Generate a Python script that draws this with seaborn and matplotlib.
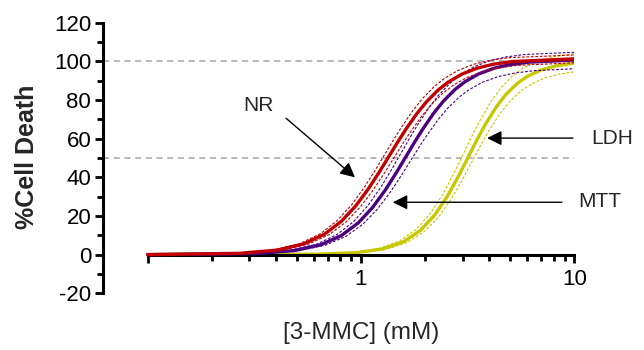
import matplotlib
matplotlib.use("Agg")
import matplotlib.pyplot as plt
import seaborn as sns
from matplotlib.ticker import FixedLocator, NullFormatter

# ---------------- data ----------------
# NR (red): fitted curve and 95% confidence band
nr_x = [0.1, 0.27, 0.405, 0.54, 0.675, 0.81, 0.945, 1.08, 1.215, 1.35, 1.485, 1.62,
        1.823, 2.025, 2.295, 2.565, 2.97, 3.51, 4.185, 5.13, 10]
nr_y = [0, 0.69, 2.36, 5.60, 10.60, 17.30, 25.23, 33.86, 42.53, 50.75, 58.18, 64.73,
        72.79, 79.02, 85.08, 89.30, 93.39, 96.51, 98.55, 99.91, 101.3]
nr_hi_x = [0.1, 0.258, 0.387, 0.516, 0.645, 0.774, 0.903, 1.032, 1.161, 1.29, 1.419, 1.548,
           1.742, 1.935, 2.193, 2.451, 2.838, 3.354, 3.999, 4.902, 10]
nr_hi_y = [0, 0.70, 2.41, 5.71, 10.81, 17.64, 25.73, 34.53, 43.37, 51.75, 59.33, 66.00,
           74.22, 80.57, 86.75, 91.06, 95.23, 98.41, 100.49, 101.88, 103.3]
nr_lo_x = [0.1, 0.284, 0.426, 0.568, 0.71, 0.852, 0.994, 1.136, 1.278, 1.42, 1.562, 1.704,
           1.917, 2.13, 2.414, 2.698, 3.124, 3.692, 4.402, 5.396, 10]
nr_lo_y = [0, 0.67, 2.32, 5.49, 10.39, 16.95, 24.74, 33.19, 41.69, 49.75, 57.03, 63.45,
           71.35, 77.46, 83.40, 87.54, 91.55, 94.60, 96.60, 97.94, 99.26]

# MTT (purple)
mtt_x = [0.1, 0.324, 0.486, 0.648, 0.81, 0.972, 1.134, 1.296, 1.458, 1.62, 1.782, 1.944,
         2.187, 2.43, 2.754, 3.078, 3.564, 4.212, 5.022, 6.156, 10]
mtt_y = [0, 0.58, 2.10, 5.11, 9.91, 16.48, 24.45, 33.20, 42.07, 50.5, 58.15, 64.81,
         73.03, 79.34, 85.38, 89.53, 93.51, 96.47, 98.36, 99.61, 100.7]
mtt_hi_x = [0.1, 0.308, 0.462, 0.616, 0.77, 0.924, 1.078, 1.232, 1.386, 1.54, 1.694, 1.848,
            2.079, 2.31, 2.618, 2.926, 3.388, 4.004, 4.774, 5.852, 10]
mtt_hi_y = [0, 0.61, 2.18, 5.31, 10.30, 17.14, 25.42, 34.51, 43.73, 52.5, 60.45, 67.38,
            75.93, 82.48, 88.76, 93.07, 97.21, 100.29, 102.26, 103.55, 104.7]
mtt_lo_x = [0.1, 0.34, 0.51, 0.68, 0.85, 1.02, 1.19, 1.36, 1.53, 1.70, 1.87, 2.04,
            2.295, 2.55, 2.89, 3.23, 3.74, 4.42, 5.27, 6.46, 10]
mtt_lo_y = [0, 0.56, 2.01, 4.88, 9.47, 15.75, 23.36, 31.72, 40.19, 48.25, 55.56, 61.92,
            69.78, 75.80, 81.57, 85.54, 89.34, 92.17, 93.98, 95.17, 96.2]

# LDH (yellow)
ldh_x = [0.1, 0.634, 0.951, 1.268, 1.585, 1.902, 2.219, 2.536, 2.853, 3.17, 3.487, 3.804,
         4.280, 4.755, 5.389, 6.023, 6.974, 8.242, 10]
ldh_y = [0, 0.22, 1.02, 2.99, 6.72, 12.60, 20.56, 30.08, 40.23, 50.15, 59.13, 66.87,
         76.00, 82.61, 88.51, 92.25, 95.53, 97.71, 99.05]
ldh_hi_x = [0.1, 0.606, 0.909, 1.212, 1.515, 1.818, 2.121, 2.424, 2.727, 3.03, 3.333, 3.636,
            4.091, 4.545, 5.151, 5.757, 6.666, 7.878, 9.393, 10]
ldh_hi_y = [0, 0.23, 1.07, 3.13, 7.04, 13.19, 21.53, 31.49, 42.12, 52.5, 61.90, 70.00,
            79.56, 86.48, 92.66, 96.57, 100.00, 102.29, 103.59, 103.9]
ldh_lo_x = [0.1, 0.662, 0.993, 1.324, 1.655, 1.986, 2.317, 2.648, 2.979, 3.31, 3.641, 3.972,
            4.469, 4.965, 5.627, 6.289, 7.282, 8.606, 10]
ldh_lo_y = [0, 0.21, 0.98, 2.86, 6.43, 12.06, 19.68, 28.79, 38.51, 48.0, 56.59, 64.00,
            72.74, 79.07, 84.72, 88.29, 91.43, 93.52, 94.6]

ref_levels = [100, 50]
y_major = [-20, 0, 20, 40, 60, 80, 100, 120]
y_minor = [-10, 10, 30, 50, 70, 90, 110]
x_major = [0.1, 1, 10]
x_major_labels = ["", "1", "10"]
x_minor = [0.2, 0.3, 0.4, 0.5, 0.6, 0.7, 0.8, 0.9, 2, 3, 4, 5, 6, 7, 8, 9]

# ---------------- styling ----------------
sns.set_theme(style="ticks")
plt.rcParams["font.family"] = ["Liberation Sans", "DejaVu Sans"]

RED = "#C00000"
PURPLE = "#4B0082"
YELLOW = "#C8C800"

fig = plt.figure(figsize=(6.44, 3.5), dpi=100)
ax = fig.add_axes([103 / 644, 1 - 293.3 / 350, (574.3 - 103) / 644, (293.3 - 22.7) / 350])

XMIN = 10 ** ((103 - 361) / 213.3)

# reference lines
for lv in ref_levels:
    ax.plot([XMIN, 10], [lv, lv], color="#A6A6A6", lw=1.1, ls=(0, (4, 3)), zorder=1)

series = [
    (nr_x, nr_y, nr_hi_x, nr_hi_y, nr_lo_x, nr_lo_y, RED, 4),
    (mtt_x, mtt_y, mtt_hi_x, mtt_hi_y, mtt_lo_x, mtt_lo_y, PURPLE, 3),
    (ldh_x, ldh_y, ldh_hi_x, ldh_hi_y, ldh_lo_x, ldh_lo_y, YELLOW, 2),
]
for cx, cy, hx, hy, lx, ly, col, z in series:
    for bx, by in ((hx, hy), (lx, ly)):
        sns.lineplot(x=bx, y=by, ax=ax, color=col, lw=0.8, sort=False, estimator=None,
                     linestyle=(0, (2.5, 1.5)), zorder=z)
    sns.lineplot(x=cx, y=cy, ax=ax, color=col, lw=2.4, sort=False, estimator=None, zorder=z + 0.5)

ax.set_xscale("log")
ax.set_xlim(XMIN, 10)
ax.set_ylim(-20, 120)

for s in ("top", "right"):
    ax.spines[s].set_visible(False)
ax.spines["left"].set_linewidth(2.2)
ax.spines["bottom"].set_linewidth(2.2)
ax.spines["bottom"].set_position(("data", 0))
ax.spines["bottom"].set_bounds(0.1, 10)
ax.spines["left"].set_color("black")
ax.spines["bottom"].set_color("black")

ax.yaxis.set_major_locator(FixedLocator(y_major))
ax.yaxis.set_minor_locator(FixedLocator(y_minor))
ax.set_yticklabels([str(v) for v in y_major])
ax.xaxis.set_major_locator(FixedLocator(x_major))
ax.xaxis.set_minor_locator(FixedLocator(x_minor))
ax.xaxis.set_minor_formatter(NullFormatter())
ax.set_xticklabels(x_major_labels)

ax.tick_params(axis="y", which="major", length=6, width=2, labelsize=16, pad=2.5, colors="black")
ax.tick_params(axis="y", which="minor", length=4, width=2, colors="black")
ax.tick_params(axis="x", which="major", length=6, width=2, labelsize=16, pad=4, colors="black")
ax.tick_params(axis="x", which="minor", length=4, width=2, colors="black")

ax.set_ylabel("")
ax.set_xlabel("")
fig.text(27.5 / 644, 1 - 157 / 350, "%Cell Death", rotation=90, ha="center", va="center",
         fontsize=18, fontweight="bold")
fig.text(361 / 644, 1 - 333 / 350, "[3-MMC] (mM)", ha="center", va="center", fontsize=17.5)

# annotations
ax.text(0.329, 77.4, "NR", ha="center", va="center", fontsize=15)
ax.annotate("", xy=(0.937, 40.0), xytext=(0.445, 70.6),
            arrowprops=dict(arrowstyle="-|>", color="black", lw=1.0, mutation_scale=22,
                            shrinkA=0, shrinkB=0), annotation_clip=False)
ax.text(15.0, 60.3, "LDH", ha="center", va="center", fontsize=15, clip_on=False)
ax.annotate("", xy=(3.90, 60.3), xytext=(9.86, 60.3),
            arrowprops=dict(arrowstyle="-|>", color="black", lw=1.0, mutation_scale=22,
                            shrinkA=0, shrinkB=0), annotation_clip=False)
ax.text(13.2, 27.6, "MTT", ha="center", va="center", fontsize=15, clip_on=False)
ax.annotate("", xy=(1.41, 27.1), xytext=(8.75, 27.1),
            arrowprops=dict(arrowstyle="-|>", color="black", lw=1.0, mutation_scale=22,
                            shrinkA=0, shrinkB=0), annotation_clip=False)

fig.savefig("out.png", dpi=100)
